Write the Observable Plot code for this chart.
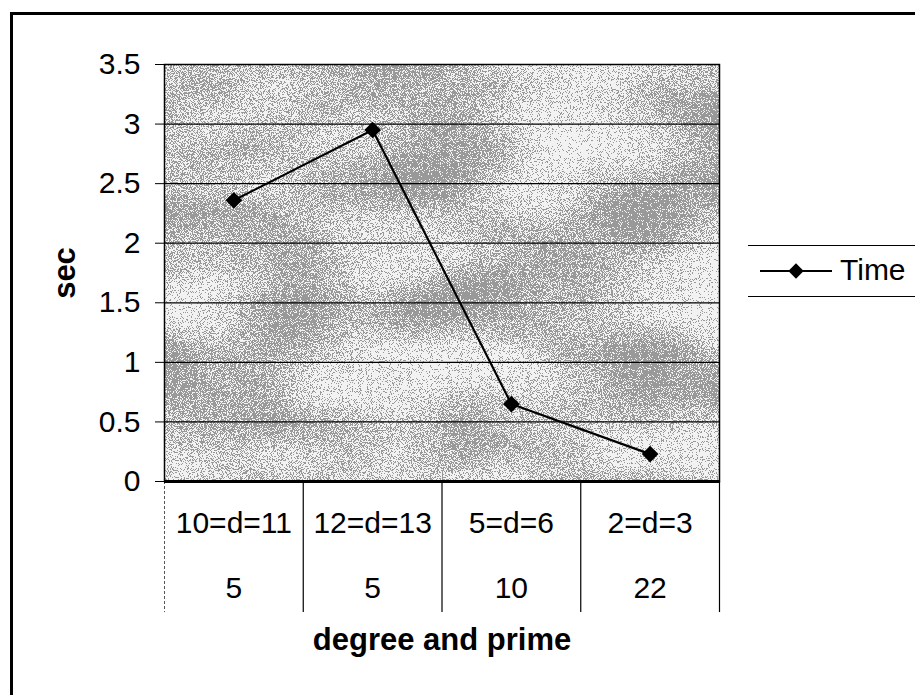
<!DOCTYPE html>
<html>
<head>
<meta charset="utf-8">
<script src="https://cdn.jsdelivr.net/npm/d3@7"></script>
<script src="https://cdn.jsdelivr.net/npm/@observablehq/plot@0.6"></script>
<style>
  html, body { margin: 0; padding: 0; background: #fff; }
  #wrap { position: relative; width: 915px; height: 695px; overflow: hidden; font-family: "Liberation Sans", Arial, sans-serif; }
  #border { position: absolute; left: 10px; top: 12px; right: -5px; bottom: -5px; border-left: 3px solid #000; border-top: 3px solid #000; pointer-events: none; }
  #legend { position: absolute; left: 748px; top: 245px; width: 180px; height: 50px; border-top: 1.5px solid #000; border-bottom: 1.5px solid #000; }
  #legend svg { position: absolute; left: 10px; top: 0; }
  #legend span { position: absolute; left: 92px; top: 6px; font-size: 30px; line-height: 36px; color: #000; }
  #chart { position: absolute; left: 0; top: 0; }
</style>
</head>
<body>
<div id="wrap">
  <div id="chart"></div>
  <div id="border"></div>
  <div id="legend"></div>
</div>
<script>
// ---- data ----
const categories = ["10=d=11", "12=d=13", "5=d=6", "2=d=3"];
const primes = ["5", "5", "10", "22"];
const times = [2.36, 2.95, 0.65, 0.23];
const yTicks = [0, 0.5, 1, 1.5, 2, 2.5, 3, 3.5];
const seriesName = "Time";
const xTitle = "degree and prime";
const yTitle = "sec";

// ---- build table ----
const data = categories.map((c, i) => ({ i, c, p: primes[i], t: times[i] }));
const bounds = d3.range(categories.length + 1).map(i => i - 0.5);
const diamond = d3.symbolDiamond2 || d3.symbolDiamond;

const chart = Plot.plot({
  width: 915,
  height: 695,
  marginLeft: 164,
  marginRight: 196,
  marginTop: 64,
  marginBottom: 214,
  style: { fontFamily: "Liberation Sans, Arial, sans-serif", fontSize: "30px", color: "#000", background: "transparent", overflow: "visible" },
  x: { domain: [-0.5, categories.length - 0.5], axis: null },
  y: { domain: [0, 3.5], ticks: yTicks, tickFormat: d => String(d), tickSize: 9, tickPadding: 15, label: null },
  marks: [
    Plot.frame({ fill: "#c0c0c0", stroke: null }),
    Plot.ruleY(yTicks, { stroke: "#000", strokeWidth: 1.2 }),
    Plot.ruleX(bounds.slice(0, 1), { y1: 0, y2: -1.1, stroke: "#555", strokeDasharray: "3,2", strokeWidth: 1 }),
    Plot.ruleX(bounds.slice(1), { y1: 0, y2: -1.1, stroke: "#000", strokeWidth: 1.2 }),
    Plot.frame({ stroke: "#000", strokeWidth: 1.5 }),
    Plot.ruleY([0], { stroke: "#000", strokeWidth: 3 }),
    Plot.line(data, { x: "i", y: "t", stroke: "#000", strokeWidth: 2.2 }),
    Plot.dot(data, { x: "i", y: "t", symbol: diamond, r: 7.5, fill: "#000", stroke: "none" }),
    Plot.text(data, { x: "i", text: "c", frameAnchor: "bottom", dy: 51, fontSize: 30 }),
    Plot.text(data, { x: "i", text: "p", frameAnchor: "bottom", dy: 116, fontSize: 30 }),
    Plot.text([xTitle], { frameAnchor: "bottom", dy: 168, fontWeight: "bold", fontSize: 31 }),
    Plot.text([yTitle], { frameAnchor: "left", textAnchor: "middle", dx: -99, rotate: -90, fontWeight: "bold", fontSize: 31 })
  ]
});
document.getElementById("chart").appendChild(chart);

// dithered grey texture for the plot area (styling only)
const NS = "http://www.w3.org/2000/svg";
const defs = document.createElementNS(NS, "defs");
defs.innerHTML = `
  <filter id="dither" x="0" y="0" width="1" height="1" filterUnits="objectBoundingBox" color-interpolation-filters="sRGB">
    <feTurbulence type="fractalNoise" baseFrequency="0.006 0.012" numOctaves="2" seed="4" result="c0"/>
    <feColorMatrix in="c0" type="matrix" values="1 0 0 0 0  1 0 0 0 0  1 0 0 0 0  0 0 0 0 1" result="c"/>
    <feTurbulence type="fractalNoise" baseFrequency="1.1" numOctaves="1" seed="9" result="f0"/>
    <feColorMatrix in="f0" type="matrix" values="1 0 0 0 0  1 0 0 0 0  1 0 0 0 0  0 0 0 0 1" result="f"/>
    <feComposite in="f" in2="c" operator="arithmetic" k1="0" k2="1" k3="0.45" k4="-0.225" result="s"/>
    <feComponentTransfer in="s">
      <feFuncR type="discrete" tableValues="0.6 0.95"/>
      <feFuncG type="discrete" tableValues="0.6 0.95"/>
      <feFuncB type="discrete" tableValues="0.6 0.95"/>
    </feComponentTransfer>
  </filter>`;
chart.insertBefore(defs, chart.firstChild);
let fr = chart.querySelector('[aria-label="frame"]');
if (fr && fr.tagName.toLowerCase() !== "rect") fr = fr.querySelector("rect");
if (fr) fr.setAttribute("filter", "url(#dither)");

// legend (right side)
const legend = d3.select("#legend");
const ls = legend.append("svg").attr("width", 80).attr("height", 50);
ls.append("line").attr("x1", 2).attr("x2", 74).attr("y1", 25).attr("y2", 25).attr("stroke", "#000").attr("stroke-width", 2.2);
ls.append("path").attr("d", d3.symbol(diamond, 150)()).attr("transform", "translate(38,25)").attr("fill", "#000");
legend.append("span").text(seriesName);
</script>
</body>
</html>
